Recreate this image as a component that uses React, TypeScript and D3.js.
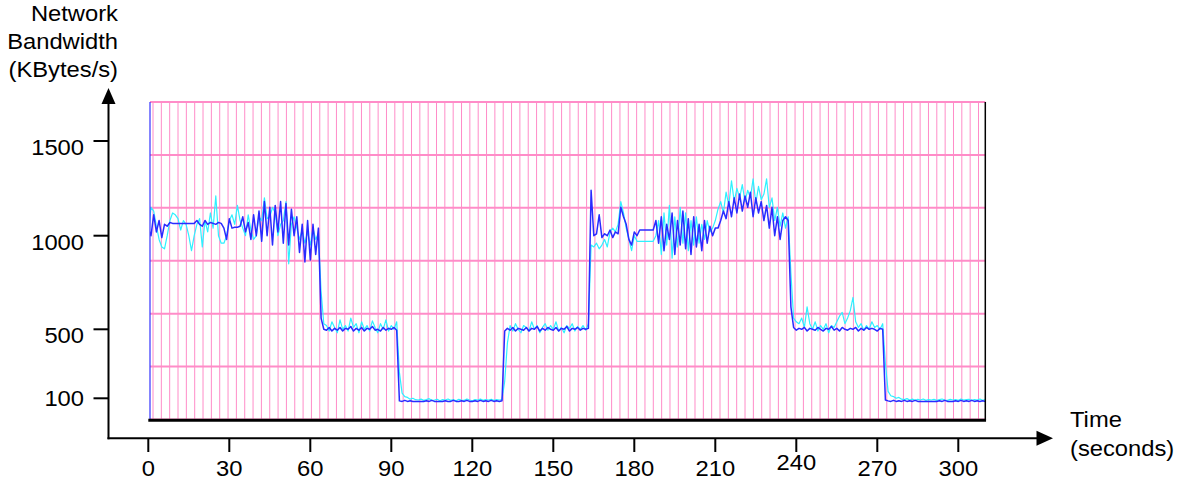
import * as d3 from "d3";

// tick labels
const timeTicks = [0, 30, 60, 90, 120, 150, 180, 210, 240, 270, 300];
const bandwidthTicks = [1500, 1000, 500, 100];
const yTitle = ["Network", "Bandwidth", "(KBytes/s)"];
const xTitle = ["Time", "(seconds)"];

// one sample per second, t = 0 .. 310 (KBytes/s)
const measured = [
  1000, 1150, 1130, 1050, 980, 940, 930, 1000, 1080, 1120,
  1110, 1090, 1030, 1080, 1060, 1000, 920, 1000, 1060, 1090,
  940, 1080, 1020, 1120, 1040, 1210, 1000, 960, 960, 1000,
  1080, 1110, 1060, 1160, 1080, 1040, 1000, 1110, 1030, 980,
  1000, 1100, 1080, 1200, 1090, 1100, 1150, 1120, 1000, 1060,
  1080, 1180, 850, 1060, 1100, 1040, 980, 1030, 960, 1020,
  950, 1040, 980, 1010, 700, 530, 520, 490, 540, 510,
  480, 550, 500, 520, 490, 560, 510, 530, 480, 540,
  500, 520, 490, 545, 510, 480, 530, 500, 550, 490,
  520, 500, 540, 250, 130, 110, 105, 95, 100, 92,
  90, 95, 88, 92, 98, 88, 90, 94, 86, 92,
  90, 96, 88, 92, 86, 94, 90, 88, 96, 90,
  86, 92, 90, 96, 88, 92, 90, 94, 88, 92,
  90, 92, 200, 420, 520, 490, 530, 500, 480, 520,
  510, 490, 540, 500, 520, 480, 510, 530, 495, 520,
  500, 540, 490, 510, 480, 520, 505, 530, 490, 515,
  500, 520, 495, 530, 950, 940, 960, 930, 950, 980,
  940, 1020, 1040, 1020, 1060, 1180, 1120, 1040, 980, 920,
  1000, 970, 970, 970, 970, 970, 970, 970, 1000, 1080,
  900, 1120, 950, 1160, 880, 1100, 940, 1150, 960, 1120,
  920, 1080, 950, 1100, 960, 1060, 980, 1080, 1020, 1040,
  1080, 1140, 1180, 1120, 1230, 1160, 1290, 1180, 1250, 1200,
  1270, 1180, 1240, 1200, 1300, 1170, 1260, 1190, 1220, 1300,
  1150, 1200, 1080, 1150, 1050, 1120, 1040, 1100, 800, 560,
  540, 530, 560, 510, 620, 530, 500, 540, 490, 520,
  500, 530, 480, 520, 510, 540, 570, 590, 530, 560,
  600, 670, 540, 510, 530, 495, 520, 500, 540, 510,
  520, 500, 530, 300, 140, 115, 110, 100, 105, 95,
  92, 98, 90, 95, 88, 94, 90, 96, 88, 92,
  90, 94, 88, 92, 96, 90, 88, 94, 90, 92,
  88, 96, 90, 92, 94, 88, 92, 90, 96, 88,
  92,
];

const estimated = [
  1040, 1000, 1110, 1020, 1080, 990, 1060, 1050, 1070, 1065,
  1065, 1065, 1065, 1065, 1065, 1065, 1065, 1065, 1080, 1060,
  1050, 1080, 1060, 1070, 1065, 1060, 1070, 1065, 1040, 980,
  1090, 1040, 1045, 1045, 1050, 1100, 1020, 1070, 980, 1110,
  1000, 1130, 970, 1180, 1000, 1150, 950, 1160, 1020, 1180,
  960, 1170, 950, 1140, 1000, 1100, 910, 1060, 860, 1080,
  870, 1060, 900, 1040, 560, 500, 495, 510, 490, 505,
  495, 510, 490, 505, 500, 515, 490, 505, 495, 510,
  490, 505, 500, 515, 495, 500, 490, 510, 495, 505,
  500, 510, 495, 85, 82, 88, 82, 86, 82, 82,
  82, 82, 82, 86, 82, 88, 82, 82, 82, 82,
  86, 82, 82, 88, 82, 82, 86, 82, 88, 82,
  82, 86, 82, 88, 82, 86, 82, 88, 82, 86,
  82, 86, 490, 505, 495, 510, 490, 505, 500, 495,
  510, 490, 505, 500, 515, 490, 505, 495, 510, 500,
  495, 510, 490, 505, 500, 515, 490, 505, 500, 510,
  495, 505, 500, 505, 1240, 1000, 1010, 1110, 990, 1010,
  1000, 1030, 990, 1020, 1010, 1150, 1100, 1060, 980, 950,
  1020, 1000, 1030, 1030, 1030, 1030, 1030, 1030, 1080, 960,
  1100, 920, 1060, 980, 1120, 900, 1080, 950, 1130, 930,
  1090, 900, 1100, 940, 1060, 920, 1080, 960, 1050, 1000,
  1040, 1040, 1080, 1130, 1090, 1180, 1100, 1200, 1120, 1220,
  1130, 1210, 1150, 1230, 1100, 1200, 1120, 1180, 1080, 1160,
  1040, 1150, 1000, 1100, 980, 1080, 1100, 1080, 620, 510,
  495, 505, 500, 510, 490, 505, 500, 495, 510, 500,
  490, 505, 500, 515, 495, 505, 490, 510, 500, 495,
  505, 500, 510, 490, 505, 495, 510, 500, 505, 500,
  490, 505, 500, 90, 85, 82, 88, 82, 86, 82,
  88, 82, 86, 82, 88, 82, 82, 82, 82, 82,
  82, 82, 82, 86, 82, 88, 82, 82, 82, 86,
  82, 88, 82, 86, 82, 88, 82, 86, 82, 86,
  82,
];

const W = 1181;
const H = 484;
const FONT = "'Liberation Sans', Arial, Helvetica, sans-serif";
const PINK = "#ff8cc8";
const STRETCH = 1.08; // the original lettering is a bit wider than Arial

// the printed axis is not linear below 500, so the scale is piecewise
const x = d3.scaleLinear().domain([0, 300]).range([148.3, 958.3]);
const y = d3
  .scaleLinear()
  .domain([100, 500, 1000, 1500])
  .range([398.3, 329.3, 235.7, 141]);

const plot = { left: 150, right: 985.3, top: 102, bottom: 419.5 };
const axisY = 108.5; // x position of vertical axis
const axisX = 438.3; // y position of horizontal axis

// small nudges the original figure has on a few labels
const yLabelShift: Record<number, number> = { 1500: 14, 1000: 14, 500: 14, 100: 8 };
const xLabelShift: Record<number, number> = { 240: -6 };

function Label({ x, y, anchor = "start", children }: { x: number; y: number; anchor?: string; children: any }) {
  return (
    <text
      transform={`translate(${x},${y}) scale(${STRETCH},1)`}
      textAnchor={anchor}
      fontSize={22}
      fill="#000"
    >
      {children}
    </text>
  );
}

export default function App() {
  const gridX = d3.scaleLinear().domain([0, 99]).range([153, 978.5]);
  const gridY = d3.scaleLinear().domain([0, 6]).range([plot.top, plot.bottom]);

  const line = d3
    .line<number>()
    .x((_, i) => x(i))
    .y((d) => y(d));

  return (
    <svg
      width={W}
      height={H}
      style={{ position: "absolute", left: 0, top: 0, display: "block", background: "#fff" }}
      fontFamily={FONT}
    >
      <defs>
        <clipPath id="plotClip">
          <rect x={plot.left} y={plot.top} width={plot.right - plot.left} height={plot.bottom - plot.top} />
        </clipPath>
      </defs>

      {/* vertical grid */}
      {d3.range(100).map((i) => (
        <line key={"v" + i} x1={gridX(i)} x2={gridX(i)} y1={plot.top} y2={plot.bottom} stroke={PINK} strokeWidth={1} />
      ))}
      {/* horizontal grid */}
      {d3.range(7).map((i) => (
        <line key={"h" + i} x1={plot.left} x2={plot.right} y1={gridY(i)} y2={gridY(i)} stroke={PINK} strokeWidth={2} />
      ))}

      {/* series */}
      <g clipPath="url(#plotClip)">
        <path d={line(measured) ?? ""} fill="none" stroke="#2ef0ff" strokeWidth={1.2} strokeLinejoin="round" />
        <path d={line(estimated) ?? ""} fill="none" stroke="#2a2aff" strokeWidth={1.5} strokeLinejoin="round" />
      </g>

      {/* frame */}
      <line x1={plot.left} x2={plot.left} y1={plot.top} y2={plot.bottom} stroke="#3333ff" strokeWidth={1.2} />
      <line x1={plot.right} x2={plot.right} y1={plot.top} y2={plot.bottom + 1} stroke="#000" strokeWidth={1.5} />
      <line x1={148.3} x2={plot.right + 0.75} y1={420.2} y2={420.2} stroke="#000" strokeWidth={3} />

      {/* y axis */}
      <line x1={axisY} x2={axisY} y1={axisX + 1} y2={100} stroke="#000" strokeWidth={2} />
      <polygon points={`${axisY},88 ${axisY - 7},104 ${axisY + 7},104`} fill="#000" />
      {bandwidthTicks.map((v) => (
        <g key={"yt" + v}>
          <line x1={93.5} x2={axisY} y1={y(v)} y2={y(v)} stroke="#000" strokeWidth={2} />
          <Label x={84} y={y(v) + yLabelShift[v]} anchor="end">
            {v}
          </Label>
        </g>
      ))}
      {yTitle.map((t, i) => (
        <Label key={t} x={118} y={21 + i * 28} anchor="end">
          {t}
        </Label>
      ))}

      {/* x axis */}
      <line x1={axisY - 1} x2={1040} y1={axisX} y2={axisX} stroke="#000" strokeWidth={2} />
      <polygon points={`1053,${axisX} 1036.5,${axisX - 7.5} 1036.5,${axisX + 7.5}`} fill="#000" />
      {timeTicks.map((t) => (
        <g key={"xt" + t}>
          <line x1={x(t)} x2={x(t)} y1={axisX} y2={452} stroke="#000" strokeWidth={2} />
          <Label x={x(t)} y={476 + (xLabelShift[t] ?? 0)} anchor="middle">
            {t}
          </Label>
        </g>
      ))}
      {xTitle.map((t, i) => (
        <Label key={t} x={1070} y={427 + i * 29}>
          {t}
        </Label>
      ))}
    </svg>
  );
}
